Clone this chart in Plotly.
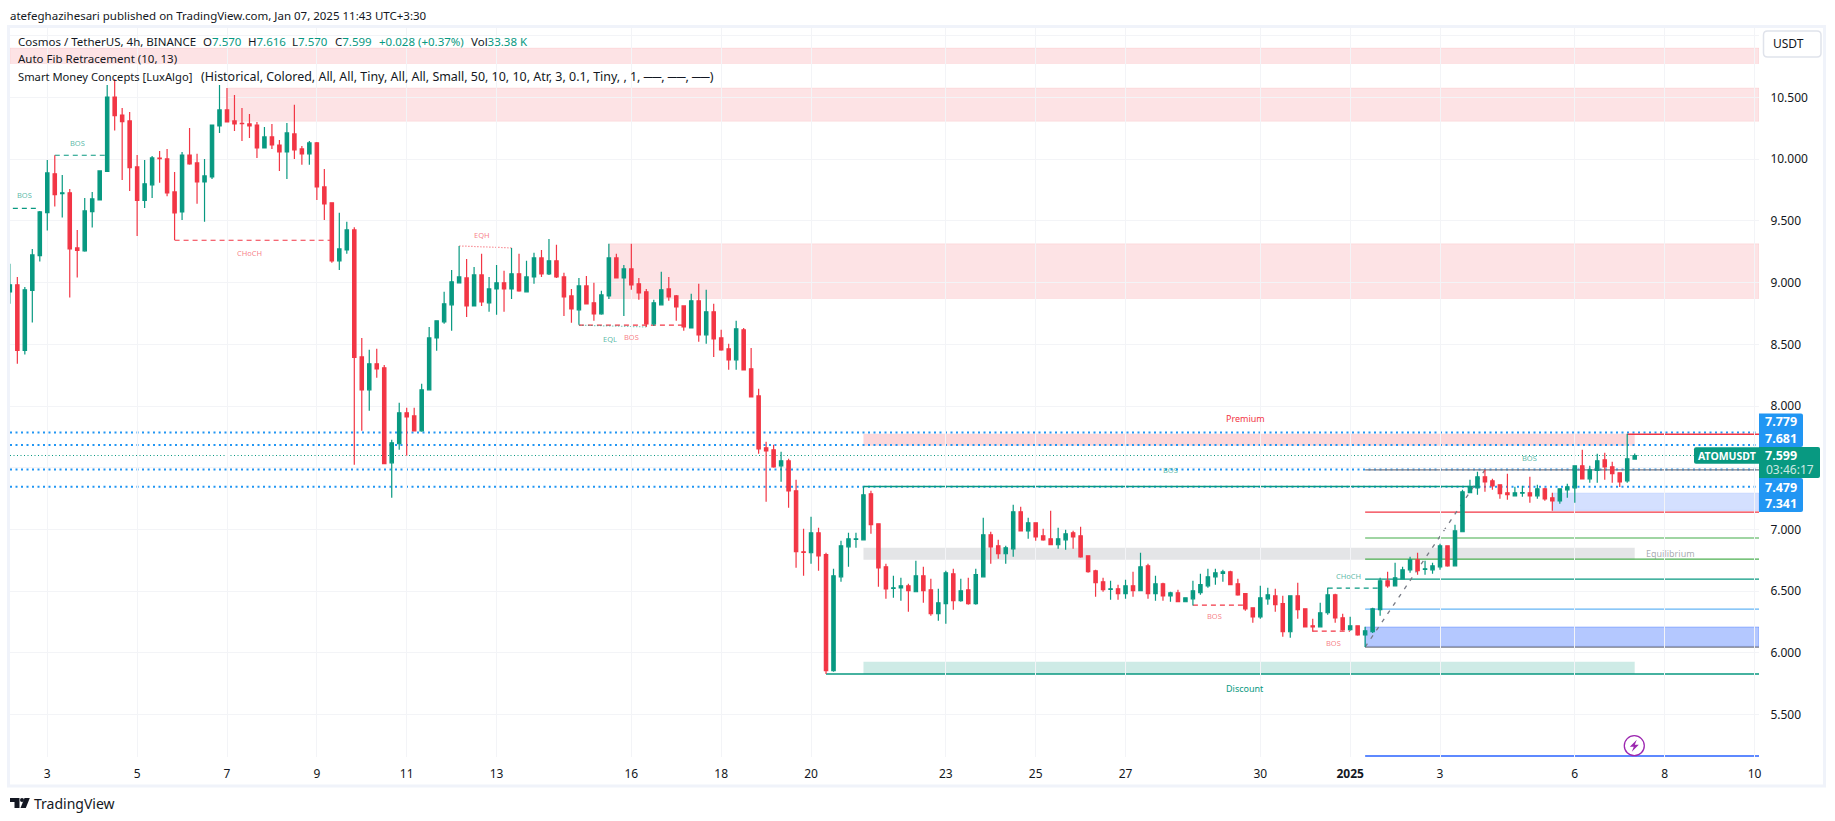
import plotly.graph_objects as go

# ---------- candle data (price, 4h bars, Dec 2 2024 -> Jan 7 2025) ----------
opens = [8.925,8.982,8.450,8.936,9.219,9.567,9.881,9.721,9.727,9.281,
 9.257,9.575,9.670,9.900,10.504,10.358,10.310,9.937,9.665,9.792,
 10.008,10.002,9.735,9.573,10.034,9.970,9.816,9.856,10.269,10.399,
 10.310,10.291,10.286,10.277,10.091,10.180,10.115,10.059,10.205,10.083,
 10.043,10.132,9.775,9.646,9.176,9.265,9.427,8.398,8.131,8.342,
 8.309,7.540,7.694,7.945,7.920,7.799,8.131,8.552,8.682,8.820,
 8.998,9.038,8.811,9.062,8.836,8.949,8.998,8.949,9.071,8.925,
 9.046,9.200,9.071,9.176,9.046,8.892,8.779,8.973,8.836,8.747,
 8.892,9.200,9.038,9.111,8.990,8.925,8.666,8.820,8.949,8.892,
 8.811,8.633,8.852,8.577,8.763,8.552,8.463,8.374,8.617,8.301,
 8.082,7.661,7.645,7.515,7.556,7.313,6.819,6.811,6.973,6.795,
 5.855,6.616,6.859,6.919,6.916,7.289,7.046,6.697,6.522,6.527,
 6.543,6.495,6.624,6.511,6.317,6.398,6.641,6.422,6.511,6.398,
 6.616,6.957,6.867,6.803,6.843,7.143,6.989,7.054,6.948,6.924,
 6.876,6.916,6.973,6.948,6.786,6.665,6.576,6.514,6.519,6.479,
 6.543,6.503,6.705,6.479,6.560,6.462,6.487,6.414,6.438,6.487,
 6.543,6.616,6.643,6.657,6.560,6.479,6.365,6.292,6.438,6.462,
 6.398,6.171,6.462,6.357,6.219,6.211,6.325,6.470,6.284,6.187,
 6.219,6.146,6.171,6.349,6.584,6.543,6.600,6.673,6.754,6.676,
 6.673,6.697,6.867,6.705,6.981,7.297,7.337,7.426,7.394,7.362,
 7.297,7.272,7.294,7.297,7.272,7.329,7.256,7.232,7.321,7.337,
 7.515,7.410,7.478,7.564,7.507,7.459,7.394,7.570]
highs = [9.152,9.046,8.965,9.273,9.581,9.994,10.032,9.872,9.759,9.427,
 9.686,9.735,9.905,10.601,10.650,10.415,10.383,10.034,9.994,10.026,
 10.067,10.083,9.897,10.059,10.253,10.043,10.002,10.277,10.601,10.577,
 10.520,10.415,10.367,10.302,10.261,10.286,10.156,10.294,10.440,10.107,
 10.148,10.140,9.921,9.646,9.565,9.492,9.449,8.552,8.455,8.463,
 8.333,7.726,8.026,7.985,7.985,8.180,8.641,8.690,8.925,9.103,
 9.297,9.192,9.127,9.233,9.046,9.143,9.095,9.281,9.233,9.176,
 9.241,9.265,9.354,9.306,9.079,8.949,9.038,9.054,8.998,8.933,
 9.314,9.233,9.143,9.314,9.038,8.949,8.860,9.087,9.046,8.900,
 8.811,8.909,8.990,8.941,8.828,8.617,8.504,8.690,8.633,8.471,
 8.139,7.710,7.686,7.629,7.572,7.402,7.005,7.102,7.013,6.811,
 6.681,6.908,6.973,6.973,7.348,7.313,7.046,6.722,6.624,6.608,
 6.560,6.746,6.697,6.600,6.519,6.665,6.681,6.600,6.608,6.681,
 7.094,6.981,6.916,6.867,7.200,7.183,7.094,7.054,7.005,7.151,
 7.013,6.997,6.989,7.021,6.786,6.673,6.608,6.584,6.552,6.592,
 6.657,6.811,6.722,6.624,6.568,6.495,6.511,6.446,6.584,6.641,
 6.681,6.681,6.673,6.665,6.600,6.479,6.365,6.543,6.527,6.519,
 6.462,6.462,6.568,6.357,6.276,6.406,6.527,6.479,6.317,6.292,
 6.219,6.211,6.365,6.608,6.657,6.730,6.697,6.778,6.811,6.746,
 6.730,6.884,6.867,7.038,7.321,7.402,7.467,7.483,7.410,7.362,
 7.451,7.345,7.353,7.426,7.362,7.337,7.297,7.329,7.370,7.515,
 7.645,7.515,7.613,7.621,7.548,7.459,7.775,7.616]
lows = [8.828,8.342,8.417,8.676,9.170,9.422,9.616,9.527,8.879,9.041,
 9.249,9.446,9.670,9.900,10.232,9.832,9.743,9.378,9.605,9.686,
 9.808,9.700,9.346,9.508,9.954,9.638,9.492,9.840,10.213,10.302,
 10.229,10.148,10.172,10.010,10.091,10.083,9.905,9.840,10.002,9.954,
 9.954,9.670,9.508,9.160,9.103,9.233,7.524,7.799,7.961,8.228,
 7.532,7.256,7.645,7.596,7.799,7.791,8.131,8.447,8.666,8.609,
 8.998,8.722,8.811,8.811,8.763,8.739,8.763,8.868,8.925,8.925,
 8.990,9.046,9.062,9.038,8.730,8.674,8.658,8.828,8.690,8.739,
 8.868,9.038,8.730,8.941,8.860,8.641,8.649,8.820,8.852,8.690,
 8.609,8.633,8.520,8.504,8.398,8.447,8.293,8.293,8.293,8.074,
 7.613,7.224,7.499,7.386,7.175,6.689,6.624,6.722,6.665,5.828,
 5.847,6.576,6.697,6.851,6.916,6.965,6.535,6.438,6.446,6.422,
 6.333,6.495,6.406,6.300,6.260,6.236,6.349,6.414,6.390,6.390,
 6.616,6.722,6.762,6.722,6.778,6.989,6.924,6.908,6.908,6.876,
 6.843,6.835,6.843,6.770,6.649,6.454,6.495,6.430,6.430,6.438,
 6.454,6.503,6.438,6.422,6.422,6.414,6.414,6.414,6.384,6.470,
 6.527,6.552,6.576,6.552,6.462,6.341,6.244,6.276,6.390,6.333,
 6.130,6.122,6.276,6.211,6.171,6.211,6.308,6.244,6.179,6.179,
 6.138,6.047,6.160,6.300,6.527,6.543,6.600,6.649,6.632,6.632,
 6.641,6.673,6.697,6.705,6.981,7.297,7.281,7.305,7.321,7.248,
 7.240,7.272,7.264,7.216,7.248,7.232,7.151,7.208,7.256,7.216,
 7.410,7.378,7.378,7.402,7.378,7.343,7.378,7.570]
closes = [8.982,8.450,8.941,9.224,9.573,9.889,9.713,9.727,9.273,9.260,
 9.581,9.678,9.905,10.504,10.353,10.305,9.932,9.665,9.800,10.010,
 10.005,9.727,9.565,10.034,9.962,9.816,9.864,10.277,10.399,10.302,
 10.286,10.288,10.269,10.091,10.180,10.115,10.059,10.213,10.075,10.043,
 10.132,9.775,9.638,9.176,9.273,9.427,8.393,8.131,8.342,8.301,
 7.532,7.702,7.945,7.912,7.799,8.131,8.552,8.690,8.828,9.006,
 9.046,8.811,9.062,8.844,8.949,8.998,8.949,9.071,8.933,9.046,
 9.200,9.071,9.176,9.046,8.884,8.787,8.973,8.828,8.747,8.900,
 9.200,9.038,9.111,8.982,8.917,8.666,8.836,8.941,8.884,8.803,
 8.641,8.852,8.577,8.763,8.544,8.455,8.374,8.625,8.293,8.074,
 7.653,7.637,7.507,7.556,7.313,6.819,6.813,6.973,6.786,5.855,
 6.624,6.867,6.924,6.924,7.281,7.038,6.689,6.519,6.527,6.543,
 6.503,6.624,6.503,6.317,6.406,6.649,6.422,6.503,6.398,6.633,
 6.957,6.859,6.803,6.851,7.143,6.989,7.054,6.940,6.916,6.876,
 6.924,6.965,6.940,6.778,6.657,6.568,6.511,6.519,6.479,6.543,
 6.503,6.697,6.479,6.560,6.462,6.487,6.414,6.446,6.503,6.552,
 6.616,6.649,6.657,6.552,6.470,6.357,6.292,6.446,6.470,6.390,
 6.171,6.462,6.349,6.211,6.211,6.325,6.470,6.284,6.187,6.219,
 6.146,6.179,6.357,6.584,6.543,6.608,6.673,6.754,6.665,6.681,
 6.705,6.867,6.705,6.989,7.305,7.345,7.426,7.386,7.353,7.289,
 7.281,7.297,7.299,7.272,7.329,7.248,7.232,7.329,7.345,7.515,
 7.410,7.483,7.556,7.507,7.451,7.386,7.572,7.599]

# ---------- axis labels ----------
x_tick_bars = [5,17,29,41,53,65,83,95,107,125,137,149,167,179,191,209,221,233]
x_tick_text = ["3","5","7","9","11","13","16","18","20","23","25","27","30","<b>2025</b>","3","6","8","10"]
y_ticks = [5.5,6.0,6.5,7.0,7.5,8.0,8.5,9.0,9.5,10.0,10.5,11.0]
y_tick_text = ["5.500","6.000","6.500","7.000","","8.000","8.500","9.000","9.500","10.000","10.500",""]

# ---------- indicator levels ----------
last_bar = 217
edge_bar = 233.6
dotted_levels = [7.785,7.685,7.485,7.345]
last_close = 7.599
supply_bands = [(0.02,10.775,10.90),(29,10.307,10.577),(80,8.871,9.314)]
zone_start = 114
premium_band = (7.677,7.775)
equilibrium_band = (6.754,6.851)
discount_band = (5.828,5.928)
fib_start = 181
fib_levels = [7.483,7.140,6.930,6.759,6.597,6.354,6.047,5.164]
fib_colors = ["#787b86","#f23645","#81c784","#4caf50","#089981","#64b5f6","#787b86","#2962ff"]
fib_band = (6.052,6.209)
demand_band = (206,7.154,7.294)
swing_green = [(0.4,4,9.602),(6,13,10.032),(176,183,6.524)]
swing_red = [(22,43,9.343),(76,90,8.655),(158,165,6.387),(174,179,6.176)]
labels_green = [("BOS",1.9,9.708),("BOS",9.1,10.129),("BOS",155,7.480),("BOS",203,7.578),("CHoCH",178.8,6.622),("EQL",80.2,8.547)]
labels_red = [("CHoCH",32,9.243),("EQH",63,9.384),("BOS",83,8.558),("BOS",160.9,6.295),("BOS",176.8,6.079)]

L,R,T,B = 10,1759,27,757
def px(x): return (x-L)/(R-L)
def py(y): return 1-(y-T)/(B-T)

UP="#089981"; DOWN="#f23645"; INK="#131722"; FONT="Noto Sans"; FRAME="#f0f3fa"

fig = go.Figure(go.Candlestick(
    x=list(range(len(opens))), open=opens, high=highs, low=lows, close=closes,
    increasing=dict(line=dict(color=UP,width=1.2),fillcolor=UP),
    decreasing=dict(line=dict(color=DOWN,width=1.2),fillcolor=DOWN),
    hoverinfo="skip", showlegend=False))

shapes=[]
def band(x0,x1,y0,y1,fill,line=None):
    shapes.append(dict(type="rect",xref="x",yref="y",x0=x0,x1=x1,y0=y0,y1=y1,fillcolor=fill,
                       line=dict(color=line or "rgba(0,0,0,0)",width=1),layer="below"))
def hline(x0,x1,y,color,width=1,dash="solid",y1=None):
    shapes.append(dict(type="line",xref="x",yref="y",x0=x0,x1=x1,y0=y,y1=y if y1 is None else y1,
                       line=dict(color=color,width=width,dash=dash),layer="below"))

for x0,y0,y1 in supply_bands:
    band(x0,edge_bar,y0,y1,"rgba(242,54,69,0.14)","rgba(242,54,69,0.08)")
band(zone_start,last_bar,*premium_band,"rgba(242,54,69,0.2)")
band(zone_start,last_bar,*equilibrium_band,"rgba(120,123,134,0.2)")
band(zone_start,last_bar,*discount_band,"rgba(8,153,129,0.2)")
band(fib_start,edge_bar,*fib_band,"rgba(41,98,255,0.35)","rgba(41,98,255,0.35)")
band(demand_band[0],edge_bar,demand_band[1],demand_band[2],"rgba(41,98,255,0.2)","rgba(41,98,255,0.15)")

for lv in dotted_levels:
    hline(0.02,edge_bar,lv,"#2196f3",2,"2px,3.5px")
hline(0.02,edge_bar,last_close,UP,1,"1px,2.5px")
hline(zone_start,196,7.348,UP,1.6)
hline(109,edge_bar,5.828,UP,1.6)
hline(216,edge_bar,7.772,DOWN,1.5)
for lv,c in zip(fib_levels,fib_colors):
    hline(fib_start,edge_bar,lv,c,1.2 if c=="#787b86" else 1.4)
hline(fib_start,197,fib_levels[6],"#787b86",1.3,"4px,6px",y1=fib_levels[0])
for x0,x1,y in swing_green: hline(x0,x1,y,UP,1.2,"5px,4px")
for x0,x1,y in swing_red: hline(x0,x1,y,DOWN,1.2,"5px,4px")
hline(60,67,9.297,"rgba(242,54,69,0.55)",1.2,"1.5px,1.5px",y1=9.281)
hline(76,85,8.655,"rgba(8,153,129,0.5)",1.2,"1.5px,1.5px",y1=8.641)

# ---- page furniture in paper coordinates ----
def prect(x0,y0,x1,y1,fill,line=None,width=0):
    shapes.append(dict(type="rect",xref="paper",yref="paper",x0=px(x0),x1=px(x1),y0=py(y0),y1=py(y1),
                       fillcolor=fill,line=dict(color=line or "rgba(0,0,0,0)",width=width),layer="above"))
def ppath(pts,fill):
    d="M"+" L".join(f"{px(a):.6f},{py(b):.6f}" for a,b in pts)+" Z"
    shapes.append(dict(type="path",xref="paper",yref="paper",path=d,fillcolor=fill,
                       line=dict(color=fill,width=0),layer="above"))
def rr(x0,y0,x1,y1,rl,rr_):
    return (f"M{px(x0+rl):.6f},{py(y0):.6f} L{px(x1-rr_):.6f},{py(y0):.6f} "
            f"Q{px(x1):.6f},{py(y0):.6f} {px(x1):.6f},{py(y0+rr_):.6f} L{px(x1):.6f},{py(y1-rr_):.6f} "
            f"Q{px(x1):.6f},{py(y1):.6f} {px(x1-rr_):.6f},{py(y1):.6f} L{px(x0+rl):.6f},{py(y1):.6f} "
            f"Q{px(x0):.6f},{py(y1):.6f} {px(x0):.6f},{py(y1-rl):.6f} L{px(x0):.6f},{py(y0+rl):.6f} "
            f"Q{px(x0):.6f},{py(y0):.6f} {px(x0+rl):.6f},{py(y0):.6f} Z")
def rpath(x0,y0,x1,y1,rl,rr_,fill,line=None,w=0):
    shapes.append(dict(type="path",xref="paper",yref="paper",path=rr(x0,y0,x1,y1,rl,rr_),fillcolor=fill,
                       line=dict(color=line or fill,width=w),layer="above"))

prect(8.5,26.5,1824.5,786,"rgba(0,0,0,0)",FRAME,3)
rpath(1763.5,31,1821,57,4,4,"#ffffff","#e0e3eb",1.5)
rpath(1759,413.5,1803,447,0,2,"#2196f3")
rpath(1759,478,1803,512,0,2,"#2196f3")
rpath(1759,447,1820,478,0,2,UP)
rpath(1694,447.3,1759.5,463.7,2,0,UP)
shapes.append(dict(type="circle",xref="paper",yref="paper",x0=px(1624.3),x1=px(1644.3),y0=py(735.7),y1=py(755.7),
                   fillcolor="#ffffff",line=dict(color="#9c27b0",width=1.3),layer="above"))
cx,cy=1634.3,745.7
ppath([(cx+2.5,cy-6),(cx-4.5,cy+1),(cx-0.5,cy+1),(cx-2.5,cy+6),(cx+4.5,cy-1),(cx+0.5,cy-1)],"#9c27b0")
ppath([(10,798),(19.5,798),(19.5,808),(14.5,808),(14.5,802),(10,802)],INK)
shapes.append(dict(type="circle",xref="paper",yref="paper",x0=px(20),x1=px(24),y0=py(798),y1=py(802),
                   fillcolor=INK,line=dict(width=0),layer="above"))
ppath([(24.5,798),(29.8,798),(25.8,808),(20.5,808)],INK)

anns=[]
def text_at(x,y,s,size=12,color=INK,anchor="left",bold=False):
    anns.append(dict(xref="paper",yref="paper",x=px(x),y=py(y),text=f"<b>{s}</b>" if bold else s,showarrow=False,
                     xanchor=anchor,yanchor="middle",align=anchor,borderpad=0,
                     font=dict(family=FONT,size=size,color=color)))
def data_text(x,y,s,color,size=7.5):
    anns.append(dict(xref="x",yref="y",x=x,y=y,text=s,showarrow=False,xanchor="center",yanchor="middle",
                     font=dict(family=FONT,size=size,color=color)))

G=f'<span style="color:{UP}">'; E="</span>"
HS=11.5
text_at(9,15,"atefeghazihesari published on TradingView.com, Jan 07, 2025 11:43 UTC+3:30",HS)
text_at(17,41,"Cosmos / TetherUS, 4h, BINANCE",HS)
text_at(201.5,41,f"O{G}7.570{E}",HS)
text_at(246.5,41,f"H{G}7.616{E}",HS)
text_at(291,41,f"L{G}7.570{E}",HS)
text_at(334,41,f"C{G}7.599{E}",HS)
text_at(378,41,"+0.028 (+0.37%)",HS,UP)
text_at(470,41,f"Vol{G}33.38 K{E}",HS)
text_at(17,58.7,"Auto Fib Retracement (10, 13)",HS)
text_at(17,76,"Smart Money Concepts [LuxAlgo]",11.2)
text_at(199.5,76,"(Historical, Colored, All, All, Tiny, All, All, Small, 50, 10, 10, Atr, 3, 0.1, Tiny, , 1, ──, ──, ──)",12.45)
text_at(1772,44,"USDT",12)
text_at(33,803,"TradingView",14)
text_at(1781,421.7,"7.779",12.5,"#ffffff","center",True)
text_at(1781,438.3,"7.681",12.5,"#ffffff","center",True)
text_at(1781,487,"7.479",12.5,"#ffffff","center",True)
text_at(1781,503.3,"7.341",12.5,"#ffffff","center",True)
text_at(1781,455.7,"7.599",12.5,"#ffffff","center",True)
text_at(1790,469.3,"03:46:17",12,"rgba(255,255,255,0.8)","center")
text_at(1726.5,455.7,"ATOMUSDT",10.5,"#ffffff","center",True)

for s,x,y in labels_green: data_text(x,y,s,"rgba(8,153,129,0.7)")
for s,x,y in labels_red: data_text(x,y,s,"rgba(242,54,69,0.65)")
data_text(165,7.896,"Premium",DOWN,9)
data_text(165,5.712,"Discount",UP,9)
data_text(221.8,6.807,"Equilibrium","rgba(120,123,134,0.65)",9)

fig.update_layout(
    width=1835,height=821,margin=dict(l=L,r=1835-R,t=T,b=821-B,pad=0),
    paper_bgcolor="#ffffff",plot_bgcolor="#ffffff",boxgap=0.36,
    shapes=shapes,annotations=anns,showlegend=False,
    font=dict(family=FONT,color=INK,size=12),
    xaxis=dict(range=[0.02,233.6],rangeslider=dict(visible=False),tickmode="array",tickvals=x_tick_bars,
               ticktext=x_tick_text,showgrid=True,gridcolor="#f3f4f7",gridwidth=1,zeroline=False,showline=False,
               ticks="outside",ticklen=6,tickcolor="rgba(0,0,0,0)",tickfont=dict(family=FONT,size=12,color=INK)),
    yaxis=dict(range=[5.156,11.071],side="right",tickmode="array",tickvals=y_ticks,ticktext=y_tick_text,
               showgrid=True,gridcolor="#f3f4f7",gridwidth=1,zeroline=False,showline=False,
               ticks="outside",ticklen=8,tickcolor="rgba(0,0,0,0)",tickfont=dict(family=FONT,size=12,color=INK)),
)
fig.write_html("out.html",config=dict(displayModeBar=False),
               post_script="document.body.style.margin='0';document.body.style.overflow='hidden';")
